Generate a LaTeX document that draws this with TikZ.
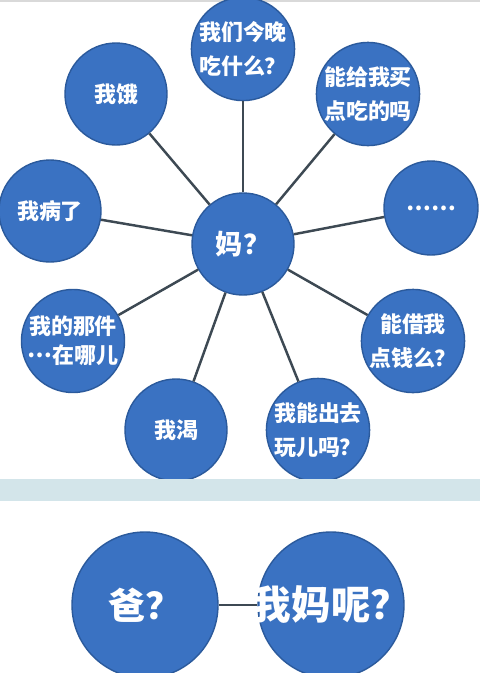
\documentclass[tikz,border=0pt]{standalone}
\usepackage{fontspec}
\newfontfamily\cjk{Noto Sans CJK SC}
\usetikzlibrary{positioning}
\definecolor{ball}{HTML}{3A72C2}
\definecolor{rim}{HTML}{2B5A9C}
\definecolor{wire}{HTML}{3D4953}
\definecolor{band}{HTML}{D3E5EA}
\tikzset{
  bubble/.style={circle,fill=ball,draw=rim,line width=0.8pt,minimum size=20.4mm,
    inner sep=0pt,align=center,text=white,font=\cjk\bfseries\fontsize{12.5}{19}\selectfont},
  leg/.style={wire,line width=1.4pt}}
\newcommand{\wide}[1]{\makebox[0pt][c]{#1}}

\begin{document}
\begin{tikzpicture}[x=0.2mm,y=-0.2mm]
  \useasboundingbox (0,0) rectangle (480,673);
  \clip (0,0) rectangle (480,673);
  \fill[white] (0,0) rectangle (480,673);
  \draw[black!15,line width=0.6pt] (0,1) -- (480,1);
  % the hub and what is asked of it
  \node[bubble,font=\cjk\bfseries\fontsize{15.5}{19}\selectfont] (ma) at (243,244) {妈？};
  \node[bubble] (dinner) at (243,49) {我们今晚\\吃什么？};
  \node[bubble] (hungry) at (116,94) {我饿};
  \node[bubble] (snack) at (368,94) {能给我买\\点吃的吗};
  \node[bubble] (sick) at (50,211) {我病了};
  \node[bubble,minimum size=18.8mm] (etc) at (431,208) {……};
  \node[bubble,font=\cjk\bfseries\fontsize{12.5}{16.5}\selectfont] (where) at (73,341) {我的那件\\\raisebox{0.3em}{…}在哪儿};
  \node[bubble] (thirsty) at (176,430) {我渴};
  \node[bubble] (play) at (318,430) {我能出去\\玩儿吗？};
  \node[bubble] (money) at (413,341) {能借我\\点钱么？};
  \foreach \n in {dinner,hungry,snack,sick,etc,where,thirsty,play,money}
    \draw[leg] (ma) -- (\n);
  \fill[band] (0,479) rectangle (480,501);
  % dad's version
  \node[bubble,minimum size=29.2mm,font=\cjk\bfseries\fontsize{21}{24}\selectfont] (ba) at (145,605) {爸？};
  \node[bubble,minimum size=29.2mm,font=\cjk\bfseries\fontsize{22.5}{24}\selectfont] (mom) at (331,605) {\wide{我妈呢？}};
  \draw[wire,line width=0.9pt] (ba) -- (mom);
\end{tikzpicture}
\end{document}
